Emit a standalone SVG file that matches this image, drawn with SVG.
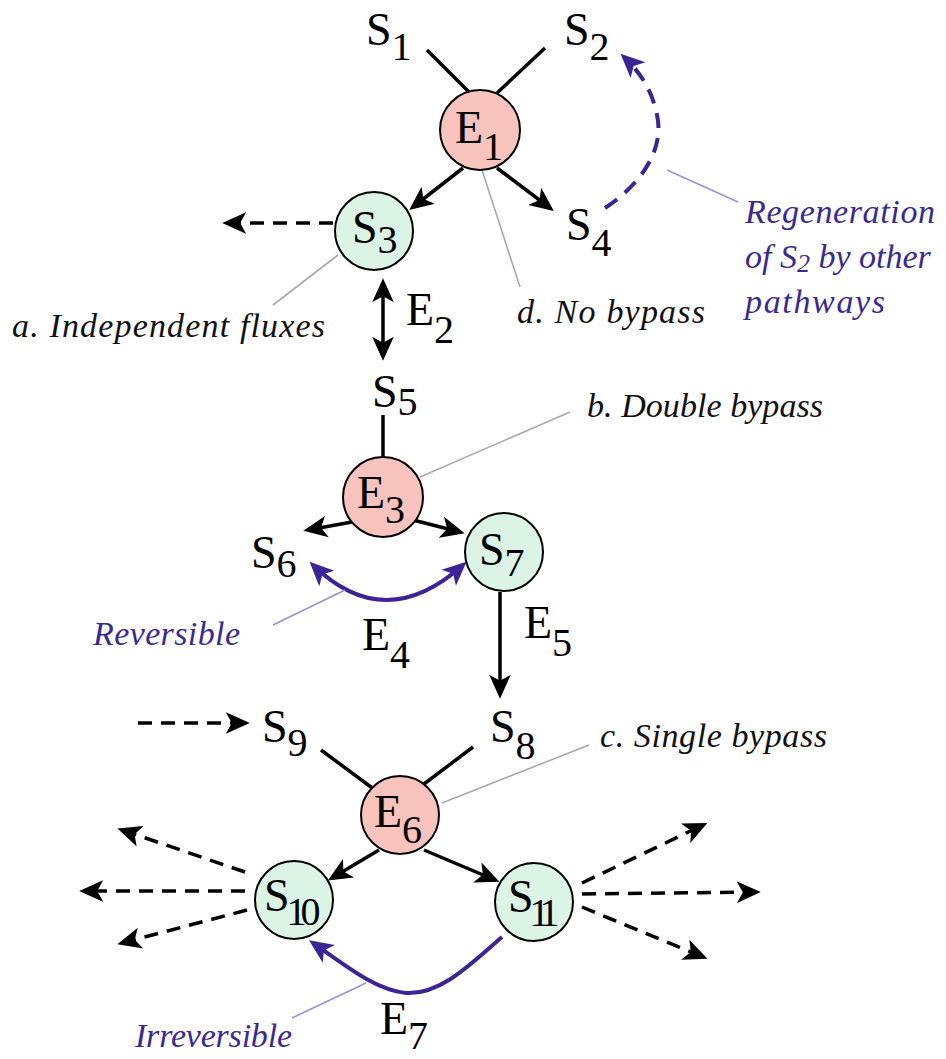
<svg xmlns="http://www.w3.org/2000/svg" width="946" height="1059" viewBox="0 0 946 1059">
<defs>
<style>
text{font-family:'Liberation Serif',serif}
.lbl{font-size:46px;fill:#000}
.sub{font-size:40px}
.ann{font-style:italic;font-size:34px;fill:#111}
.pann{font-style:italic;font-size:34px;fill:#3a2a90}
.enz{fill:#f8c3bd;stroke:#000;stroke-width:2}
.sub-node{fill:#dcf4e6;stroke:#000;stroke-width:2}
.bl{stroke:#000;stroke-width:3.5;fill:none}
.bla{stroke:#000;stroke-width:3.5;fill:none;marker-end:url(#ah)}
.bld{stroke:#000;stroke-width:3.5;fill:none;stroke-dasharray:14 9;marker-end:url(#ah)}
.pu{stroke:#3c2496;stroke-width:4;fill:none}
.gl{stroke:#a8a8a8;stroke-width:1.6;fill:none}
.pl{stroke:#9a90d4;stroke-width:1.6;fill:none}
</style>
<marker id="ah" viewBox="0 0 20 20" refX="16" refY="10" markerWidth="24" markerHeight="24" markerUnits="userSpaceOnUse" orient="auto-start-reverse">
<path d="M0,1 L20,10 L0,19 L5,10 z" fill="#000"/>
</marker>
<marker id="ahp" viewBox="0 0 20 20" refX="16" refY="10" markerWidth="24" markerHeight="24" markerUnits="userSpaceOnUse" orient="auto-start-reverse">
<path d="M0,1 L20,10 L0,19 L5,10 z" fill="#3c2496"/>
</marker>
</defs>
<rect width="946" height="1059" fill="#fff"/>

<g id="connectors">
<line class="bl" x1="427" y1="50" x2="470" y2="93"/>
<line class="bl" x1="545" y1="48" x2="497" y2="93"/>
<line class="bla" x1="463" y1="168" x2="413" y2="207"/>
<line class="bla" x1="497" y1="168" x2="550" y2="208"/>
<line class="bld" x1="333" y1="223" x2="227" y2="223"/>
<line class="bl" x1="383" y1="283" x2="383" y2="356" style="marker-start:url(#ah);marker-end:url(#ah)"/>
<line class="bl" x1="383" y1="415" x2="383" y2="458"/>
<line class="bla" x1="352" y1="522" x2="308" y2="530"/>
<line class="bla" x1="413" y1="520" x2="460" y2="532"/>
<path class="pu" d="M313,565 Q385,635 463,565" style="marker-start:url(#ahp);marker-end:url(#ahp)"/>
<line class="bla" x1="500" y1="592" x2="500" y2="694"/>
<line class="bld" x1="138" y1="723" x2="245" y2="723"/>
<line class="bl" x1="321" y1="750" x2="375" y2="790"/>
<line class="bl" x1="473" y1="747" x2="424" y2="784"/>
<line class="bla" x1="379" y1="850" x2="332" y2="878"/>
<line class="bla" x1="424" y1="850" x2="495" y2="880"/>
<line class="bld" x1="245" y1="872" x2="122" y2="830"/>
<line class="bld" x1="245" y1="891" x2="84" y2="891"/>
<line class="bld" x1="247" y1="910" x2="122" y2="943"/>
<line class="bld" x1="582" y1="883" x2="703" y2="825"/>
<line class="bld" x1="582" y1="894" x2="756" y2="892"/>
<line class="bld" x1="582" y1="907" x2="703" y2="957"/>
<path class="pu" d="M502,937 C470,965 440,995 406,993 C375,990 345,965 313,943" style="marker-end:url(#ahp)"/>
<path class="pu" d="M605,208 C640,185 665,150 657,115 C652,90 640,72 624,57" style="stroke-dasharray:15 10;marker-end:url(#ahp)"/>
<line class="gl" x1="338" y1="255" x2="273" y2="305"/>
<line class="gl" x1="482" y1="170" x2="520" y2="287"/>
<line class="pl" x1="667" y1="170" x2="738" y2="202"/>
<line class="gl" x1="420" y1="477" x2="570" y2="412"/>
<line class="pl" x1="345" y1="590" x2="273" y2="625"/>
<line class="gl" x1="442" y1="803" x2="589" y2="745"/>
<line class="pl" x1="366" y1="983" x2="292" y2="1018"/>
</g>

<g id="E1"><circle class="enz" cx="480" cy="130" r="40"/><text class="lbl" x="455" y="143">E<tspan class="sub" dy="17">1</tspan></text></g>
<g id="S1"><text class="lbl" x="366" y="45">S<tspan class="sub" dy="15">1</tspan></text></g>
<g id="S2"><text class="lbl" x="564" y="45">S<tspan class="sub" dy="15">2</tspan></text></g>
<g id="S3"><circle class="sub-node" cx="374" cy="231" r="39"/><text class="lbl" x="352" y="243">S<tspan class="sub" dy="10">3</tspan></text></g>
<g id="S4"><text class="lbl" x="566" y="240">S<tspan class="sub" dy="16">4</tspan></text></g>
<g id="E2"><text class="lbl" x="406" y="325">E<tspan class="sub" dy="18">2</tspan></text></g>
<g id="S5"><text class="lbl" x="372" y="407">S<tspan class="sub" dy="8">5</tspan></text></g>
<g id="E3"><circle class="enz" cx="383" cy="497" r="40"/><text class="lbl" x="357" y="508">E<tspan class="sub" dy="15">3</tspan></text></g>
<g id="S6"><text class="lbl" x="251" y="568">S<tspan class="sub" dy="9">6</tspan></text></g>
<g id="S7"><circle class="sub-node" cx="504" cy="552" r="39"/><text class="lbl" x="479" y="565">S<tspan class="sub" dy="11">7</tspan></text></g>
<g id="E4"><text class="lbl" x="362" y="650">E<tspan class="sub" dy="18">4</tspan></text></g>
<g id="E5"><text class="lbl" x="524" y="638">E<tspan class="sub" dy="18">5</tspan></text></g>
<g id="S9"><text class="lbl" x="262" y="742">S<tspan class="sub" dy="14">9</tspan></text></g>
<g id="S8"><text class="lbl" x="490" y="742">S<tspan class="sub" dy="17">8</tspan></text></g>
<g id="E6"><circle class="enz" cx="400" cy="815" r="39"/><text class="lbl" x="374" y="827">E<tspan class="sub" dy="16">6</tspan></text></g>
<g id="S10"><circle class="sub-node" cx="294" cy="900" r="39"/><text class="lbl" x="264" y="911">S<tspan class="sub" dx="-3" dy="14" textLength="34">10</tspan></text></g>
<g id="S11"><circle class="sub-node" cx="534" cy="902" r="39"/><text class="lbl" x="508" y="912">S<tspan class="sub" dx="-4" dy="14" textLength="30">11</tspan></text></g>
<g id="E7"><text class="lbl" x="380" y="1034">E<tspan class="sub" dy="15">7</tspan></text></g>

<g id="labels">
<text class="ann" x="12" y="337" textLength="313">a. Independent fluxes</text>
<text class="ann" x="517" y="323" textLength="188">d. No bypass</text>
<text class="ann" x="587" y="417" textLength="236">b. Double bypass</text>
<text class="ann" x="600" y="747" textLength="227">c. Single bypass</text>
<text class="pann" x="745" y="223" textLength="190">Regeneration</text>
<text class="pann" x="745" y="268">of S<tspan font-size="26" dy="4">2</tspan><tspan dy="-4"> by other</tspan></text>
<text class="pann" x="745" y="313" textLength="140">pathways</text>
<text class="pann" x="93" y="645" textLength="147">Reversible</text>
<text class="pann" x="135" y="1047" textLength="157">Irreversible</text>
</g>
</svg>
